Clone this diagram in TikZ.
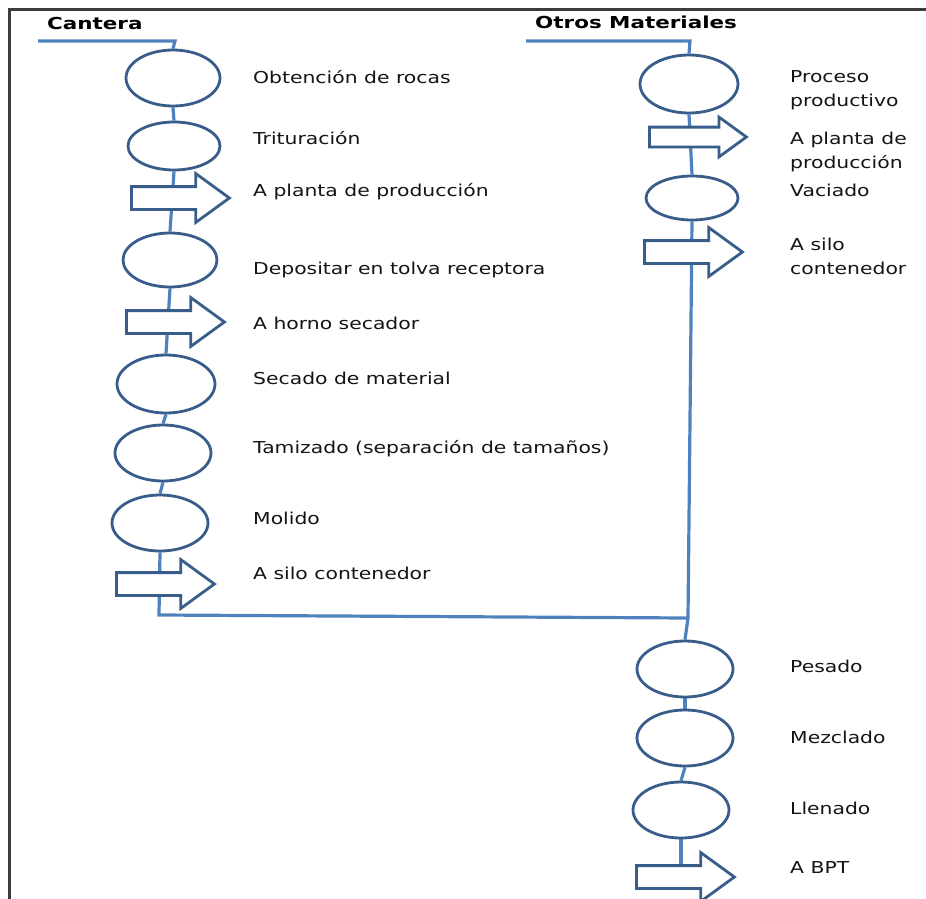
\documentclass[tikz,border=0pt]{standalone}
\usepackage{fontspec}
\setmainfont[FakeStretch=1.24]{DejaVu Sans}
\newfontfamily\headfont[FakeStretch=1.3]{DejaVu Sans}
\usetikzlibrary{shapes.geometric,shapes.arrows,backgrounds}
\definecolor{flowline}{RGB}{79,129,189}
\definecolor{shapeedge}{RGB}{56,93,138}
\definecolor{framegray}{RGB}{60,60,60}
\definecolor{labeltext}{RGB}{20,20,20}

\begin{document}
\begin{tikzpicture}[x=1pt,y=-1pt,
  op/.style={ellipse,draw=shapeedge,line width=2.8pt,fill=white,inner sep=0pt},
  move/.style={single arrow,draw=shapeedge,line width=2.8pt,fill=white,
    inner xsep=0pt,inner ysep=10pt,minimum height=98pt,
    single arrow head extend=13pt,single arrow tip angle=72,anchor=tail},
  flow/.style={draw=flowline,line width=3.2pt},
  lbl/.style={anchor=base west,font=\fontsize{16.4}{24}\selectfont,align=left,
    inner sep=0pt,text=labeltext},
  head/.style={anchor=base west,font=\headfont\bfseries\fontsize{16.5}{20}\selectfont,
    inner sep=0pt,text=black}]
\useasboundingbox (0,0) rectangle (926,899);

% page frame (left and top edges)
\coordinate (fbl) at (9,899);
\coordinate (ftl) at (9,10);
\coordinate (ftr) at (926,10);
\draw[framegray,line width=3pt] (fbl) -- (ftl) -- (ftr);

% headings
\node[head] (cantera) at (47,30) {Cantera};
\node[head] (otros) at (535,29) {Otros Materiales};

% quarry line: operations and transports
\node[op,minimum width=94pt,minimum height=56pt] (e1) at (173,78) {};
\node[op,minimum width=92pt,minimum height=48pt] (e2) at (174,146) {};
\node[move] (a1) at (130,198) {};
\node[op,minimum width=94pt,minimum height=54pt] (e3) at (170,260) {};
\node[move] (a2) at (125,322) {};
\node[op,minimum width=98pt,minimum height=58pt] (e4) at (166,384) {};
\node[op,minimum width=96pt,minimum height=56pt] (e5) at (163,453) {};
\node[op,minimum width=96pt,minimum height=56pt] (e6) at (160,523) {};
\node[move] (a3) at (115,584) {};

% other materials line
\node[op,minimum width=98pt,minimum height=58pt] (p1) at (689,84) {};
\node[move,inner ysep=8.5pt,single arrow head extend=10pt,minimum height=97pt] (r1) at (648,137) {};
\node[op,minimum width=92pt,minimum height=44pt] (p2) at (692,198) {};
\node[move] (r2) at (643,252) {};
\node[op,minimum width=96pt,minimum height=56pt] (p3) at (685,669) {};
\node[op,minimum width=96pt,minimum height=56pt] (p4) at (685,738) {};
\node[op,minimum width=96pt,minimum height=56pt] (p5) at (681,810) {};
\node[move] (a4) at (635,877) {};

% connectors
\coordinate (lstart) at (38,41);
\coordinate (lcorner) at (175,41);
\coordinate (rstart) at (526,41);
\coordinate (rcorner) at (690,41);
\coordinate (lbottom) at (159,615);
\coordinate (join) at (688,618);
\begin{scope}[on background layer]
  \draw[flow] (lstart) -- (lcorner) -- (e1.north);
  \draw[flow] (e1.south) -- (e2.north);
  \draw[flow] (e2.south) -- (e3.north);
  \draw[flow] (e3.south) -- (e4.north);
  \draw[flow] (e4.south) -- (e5.north);
  \draw[flow] (e5.south) -- (e6.north);
  \draw[flow] (e6.south) -- (lbottom) -- (join);
  \draw[flow] (rstart) -- (rcorner) -- (p1.north);
  \draw[flow] (p1.south) -- (p2.north);
  \draw[flow] (p2.south) -- (join) -- (p3.north);
  \draw[flow] (p3.south) -- (p4.north);
  \draw[flow] (p4.south) -- (p5.north);
  \draw[flow] (p5.south) -- (p5.south |- a4.tail);
\end{scope}

% labels, quarry line
\node[lbl] (t1) at (253,83) {Obtención de rocas};
\node[lbl] (t2) at (253,144) {Trituración};
\node[lbl] (t3) at (253,196) {A planta de producción};
\node[lbl] (t4) at (253,274) {Depositar en tolva receptora};
\node[lbl] (t5) at (253,329) {A horno secador};
\node[lbl] (t6) at (253,384) {Secado de material};
\node[lbl] (t7) at (253,453) {Tamizado (separación de tamaños)};
\node[lbl] (t8) at (253,524) {Molido};
\node[lbl] (t9) at (253,579) {A silo contenedor};

% labels, other materials line (base anchor sits on the last line)
\node[lbl] (u1) at (790,106) {Proceso\\productivo};
\node[lbl] (u2) at (790,168) {A planta de\\producción};
\node[lbl] (u3) at (790,196) {Vaciado};
\node[lbl] (u4) at (790,274) {A silo\\contenedor};
\node[lbl] (u5) at (790,672) {Pesado};
\node[lbl] (u6) at (790,743) {Mezclado};
\node[lbl] (u7) at (790,814) {Llenado};
\node[lbl] (u8) at (790,873) {A BPT};
\end{tikzpicture}
\end{document}
